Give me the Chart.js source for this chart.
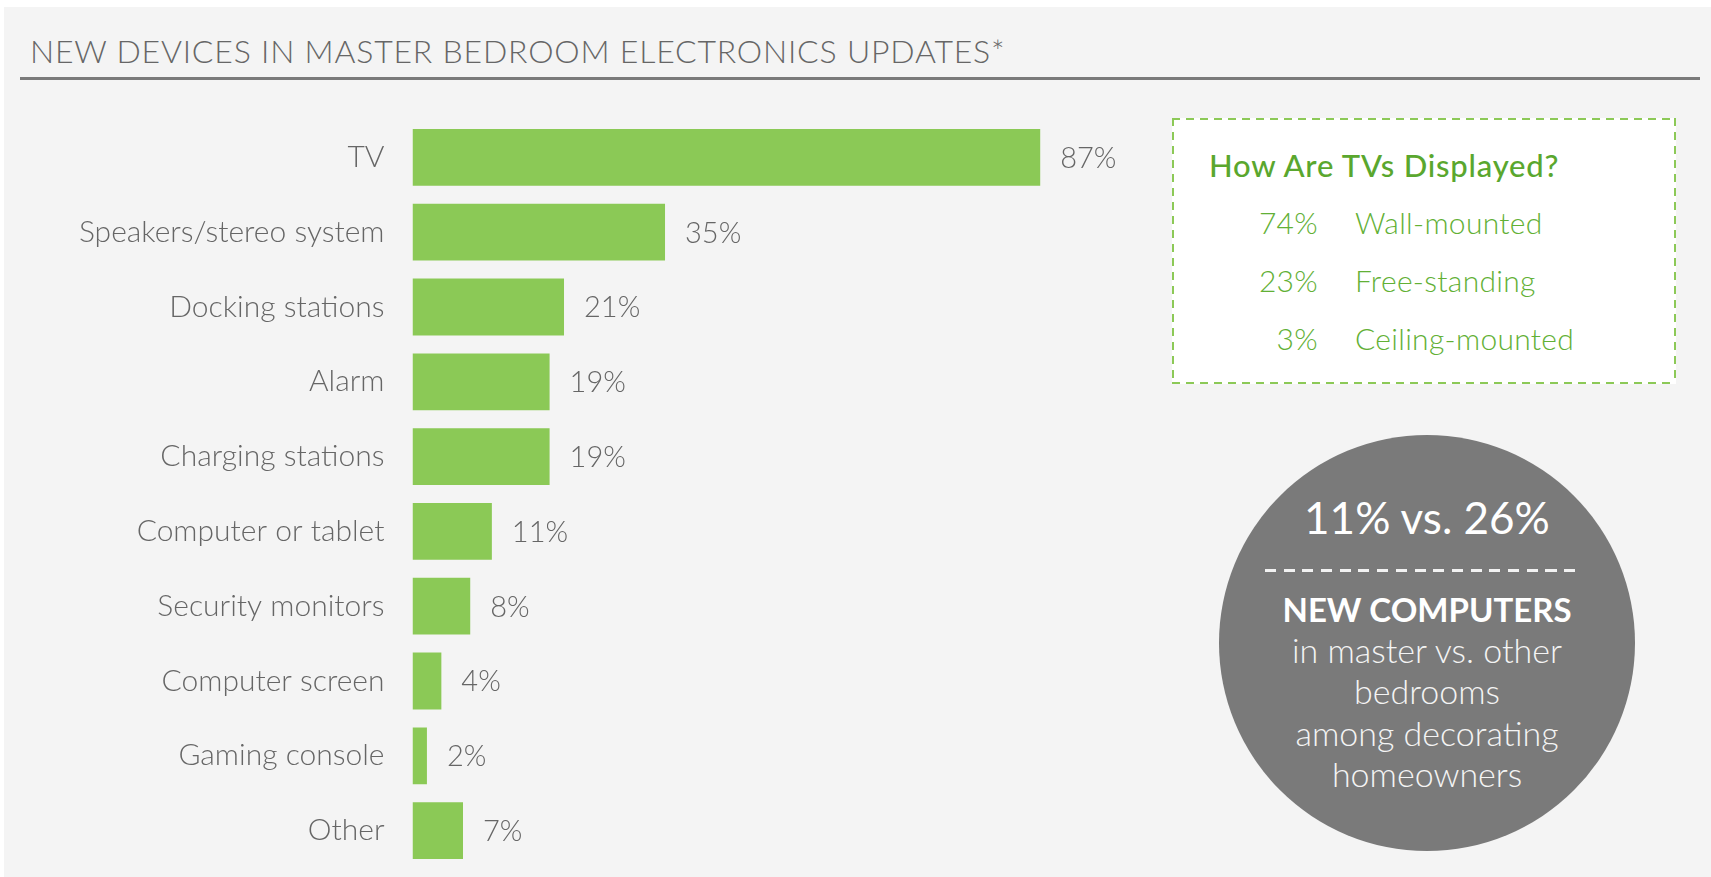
<!DOCTYPE html>
<html>
<head>
<meta charset="utf-8">
<script src="https://cdn.jsdelivr.net/npm/chart.js@4"></script>
<style>
  html, body { margin: 0; padding: 0; background: #fff; }
  body { width: 1711px; height: 877px; position: relative; overflow: hidden; font-family: Lato, "Open Sans", sans-serif; }
  .panel { position: absolute; left: 4px; top: 7px; right: 0; bottom: 0; background: #f4f4f4; }
  .title { position: absolute; left: 30px; top: 33px; font-size: 32px; line-height: 36px; font-weight: 300; color: #666; letter-spacing: 0.8px; white-space: nowrap; }
  .rule { position: absolute; left: 20px; top: 77px; width: 1680px; height: 3px; background: #7a7a7a; }
  #wrap { position: absolute; left: 0; top: 0; width: 1160px; height: 877px; }
  .box {
    position: absolute; left: 1172px; top: 118px; width: 504px; height: 266px;
    background:
      repeating-linear-gradient(90deg, #8cc957 0 8px, transparent 8px 14px) left top / 100% 2px no-repeat,
      repeating-linear-gradient(90deg, #8cc957 0 8px, transparent 8px 14px) left bottom / 100% 2px no-repeat,
      repeating-linear-gradient(180deg, #8cc957 0 8px, transparent 8px 14px) left top / 2px 100% no-repeat,
      repeating-linear-gradient(180deg, #8cc957 0 8px, transparent 8px 14px) right top / 2px 100% no-repeat,
      #fff;
  }
  .box .head { position: absolute; left: 37px; top: 30px; font-size: 31px; line-height: 34px; font-weight: 500; color: #5aa72e; white-space: nowrap; letter-spacing: 0.8px; }
  .box .row { position: absolute; left: 2px; width: 500px; font-size: 30px; line-height: 34px; font-weight: 300; color: #62b035; white-space: nowrap; letter-spacing: 0.3px; }
  .box .pct { position: absolute; right: 356px; text-align: right; }
  .box .lab { position: absolute; left: 181px; }
  .circle { position: absolute; left: 1219px; top: 435px; width: 416px; height: 416px; border-radius: 50%; background: #7a7a7a; color: #fff; text-align: center; }
  .circle .big { position: absolute; left: 0; width: 100%; top: 56px; font-size: 44px; line-height: 52px; font-weight: 400; }
  .circle .dash { position: absolute; left: 46px; width: 318px; top: 134px; height: 3px;
    background: repeating-linear-gradient(90deg, #f2f2f2 0 11px, transparent 11px 18.7px); }
  .circle .bold { position: absolute; left: 0; width: 100%; top: 156px; font-size: 33px; line-height: 36px; font-weight: 700; }
  .circle .small { position: absolute; left: 0; width: 100%; top: 194px; font-size: 34px; line-height: 41.3px; font-weight: 300; color: #f4f4f4; }
</style>
</head>
<body>
<div class="panel"></div>
<div class="title">NEW DEVICES IN MASTER BEDROOM ELECTRONICS UPDATES*</div>
<div class="rule"></div>
<div id="wrap"><canvas id="myChart"></canvas></div>

<div class="box">
  <div class="head">How Are TVs Displayed?</div>
  <div id="tvRows"></div>
</div>

<div class="circle">
  <div class="big">11% vs. 26%</div>
  <div class="dash"></div>
  <div class="bold">NEW COMPUTERS</div>
  <div class="small">in master vs. other<br>bedrooms<br>among decorating<br>homeowners</div>
</div>

<script>
var devices = ['TV', 'Speakers/stereo system', 'Docking stations', 'Alarm', 'Charging stations',
    'Computer or tablet', 'Security monitors', 'Computer screen', 'Gaming console', 'Other'];
var devicePct = [87, 35, 21, 19, 19, 11, 8, 4, 2, 7];

var tvDisplay = ['Wall-mounted', 'Free-standing', 'Ceiling-mounted'];
var tvDisplayPct = [74, 23, 3];

// side box rows
var rowsEl = document.getElementById('tvRows');
tvDisplay.forEach(function(name, i) {
    var row = document.createElement('div');
    row.className = 'row';
    row.style.top = (87 + i * 58) + 'px';
    row.innerHTML = '<span class="pct">' + tvDisplayPct[i] + '%</span><span class="lab">' + name + '</span>';
    rowsEl.appendChild(row);
});

var valueLabels = {
    id: 'valueLabels',
    afterDatasetsDraw: function(chart) {
        var ctx = chart.ctx;
        var meta = chart.getDatasetMeta(0);
        ctx.save();
        ctx.font = '300 29px Lato, "Open Sans", sans-serif';
        ctx.fillStyle = '#666';
        ctx.textAlign = 'left';
        ctx.textBaseline = 'middle';
        meta.data.forEach(function(bar, i) {
            ctx.fillText(devicePct[i] + '%', bar.x + 20, bar.y + 1);
        });
        ctx.restore();
    }
};

var config = {
    type: 'bar',
    data: {
        labels: devices,
        datasets: [{
            data: devicePct,
            backgroundColor: '#8bc956',
            borderWidth: 0,
            categoryPercentage: 1,
            barPercentage: 0.76
        }]
    },
    options: {
        indexAxis: 'y',
        responsive: true,
        maintainAspectRatio: false,
        animation: false,
        layout: {
            padding: { top: 120, bottom: 9, right: 26, left: 0 }
        },
        plugins: {
            legend: { display: false },
            tooltip: { enabled: false }
        },
        scales: {
            x: {
                display: false,
                min: 0,
                max: 100
            },
            y: {
                grid: { display: false, drawTicks: false },
                border: { display: false },
                afterFit: function(scale) {
                    scale.width = 412.5;
                    // keep the first/last label from pushing the plot area in
                    scale.paddingTop = 0;
                    scale.paddingBottom = 0;
                },
                ticks: {
                    padding: 28,
                    color: '#666',
                    font: { family: 'Lato, "Open Sans", sans-serif', size: 30, weight: 300 }
                }
            }
        }
    },
    plugins: [valueLabels]
};

window.onload = function() {
    var ctx = document.getElementById('myChart').getContext('2d');
    window.myBar = new Chart(ctx, config);
};
</script>
</body>
</html>
